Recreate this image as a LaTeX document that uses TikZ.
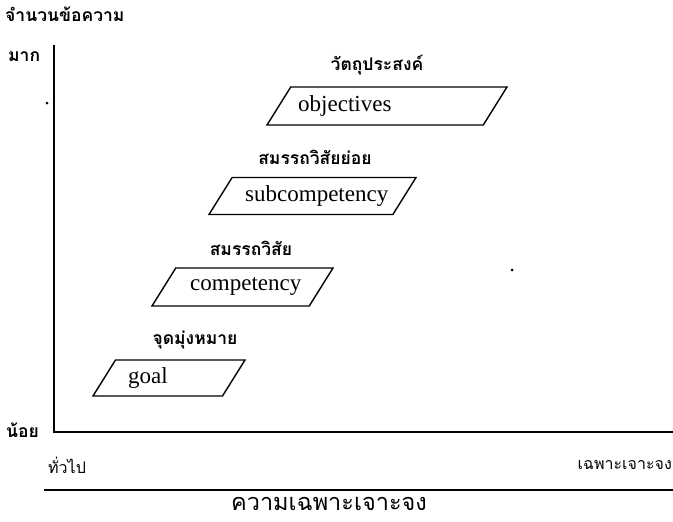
\documentclass[tikz,border=0pt]{standalone}
\usepackage{fontspec}
\setmainfont{Liberation Serif}
\newfontfamily\thaifont[Script=Thai]{Loma}
\usetikzlibrary{shapes.geometric}
\tikzset{
  para/.style={draw, line width=1.4pt, trapezium, trapezium left angle=58,
    trapezium right angle=122, trapezium stretches body, inner sep=0pt},
  boxtext/.style={anchor=west, inner sep=0pt, font=\fontsize{23}{23}\selectfont},
  thlabel/.style={inner sep=0pt, font=\thaifont\bfseries\fontsize{17.5}{17.5}\selectfont},
  thplain/.style={inner sep=0pt, font=\thaifont\fontsize{16}{16}\selectfont},
  axis/.style={line width=1.8pt}
}
\begin{document}
\begin{tikzpicture}[x=1pt,y=-1pt]
\useasboundingbox (0,0) rectangle (673,522);
% axes
\coordinate (ytop) at (54,45);
\coordinate (origin) at (54,432);
\coordinate (xend) at (673,432);
\draw[axis] (ytop) -- (origin) -- (xend);
\node[thlabel, anchor=west] (count) at (5,14) {จำนวนข้อความ};
\node[thlabel, anchor=west] (many) at (8,57) {มาก};
\node[thlabel, anchor=west] (few) at (6,430) {น้อย};
\node[thplain, anchor=west] (general) at (48,465) {ทั่วไป};
\node[thplain, anchor=east] (specific) at (672,465) {เฉพาะเจาะจง};
% title rule
\coordinate (ruleL) at (44,490);
\coordinate (ruleR) at (673,490);
\draw[axis] (ruleL) -- (ruleR);
\node[inner sep=0pt, font=\thaifont\fontsize{23.5}{23.5}\selectfont] (title) at (329,504) {ความเฉพาะเจาะจง};
% levels
\node[para, minimum width=240pt] (obj) at (387,106) {\rule{0pt}{38pt}};
\node[boxtext] (objtxt) at (298,106) {objectives};
\node[thlabel] (objlbl) at (377,65) {วัตถุประสงค์};
\node[para, minimum width=207pt] (sub) at (312.5,196) {\rule{0pt}{37pt}};
\node[boxtext] (subtxt) at (245,196) {subcompetency};
\node[thlabel] (sublbl) at (315,157) {สมรรถวิสัยย่อย};
\node[para, minimum width=181pt] (comp) at (242.5,287) {\rule{0pt}{38pt}};
\node[boxtext] (comptxt) at (190,287) {competency};
\node[thlabel] (complbl) at (251,248) {สมรรถวิสัย};
\node[para, minimum width=152pt] (goal) at (169,378) {\rule{0pt}{36pt}};
\node[boxtext] (goaltxt) at (128,378) {goal};
\node[thlabel] (goallbl) at (195,340) {จุดมุ่งหมาย};
% specks
\fill[black] (47,103) circle (1.5);
\fill[black] (512,270) circle (1.5);
\end{tikzpicture}
\end{document}
